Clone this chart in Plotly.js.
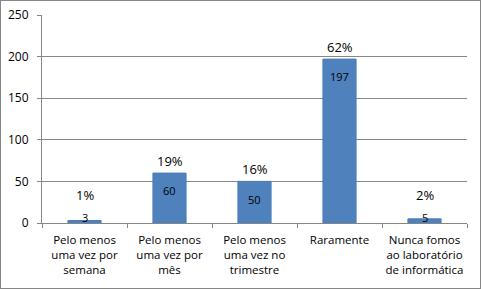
<!DOCTYPE html>
<html><head><meta charset="utf-8">
<script src="https://cdn.plot.ly/plotly-3.0.1.min.js"></script>
<style>
html,body{margin:0;padding:0;background:#fff;}
#wrap{width:481px;height:289px;box-sizing:border-box;border:1px solid #868686;}
#chart{width:479px;height:287px;}
</style></head>
<body><div id="wrap"><div id="chart"></div></div>
<script>
const categories = [
  "Pelo menos<br>uma vez por<br>semana",
  "Pelo menos<br>uma vez por<br>mês",
  "Pelo menos<br>uma vez no<br>trimestre",
  "Raramente",
  "Nunca fomos<br>ao laboratório<br>de informática"
];
const values = [3, 60, 50, 197, 5];
const percentLabels = ["1%", "19%", "16%", "62%", "2%"];

const font = "Open Sans, sans-serif";
const annotations = [];
categories.forEach((c, i) => {
  annotations.push({
    x: c, y: Math.max(values[i] - 10, 18), xref: 'x', yref: 'y',
    text: String(values[i]), showarrow: false, yanchor: 'top',
    font: {family: font, size: 11, color: '#000'}
  });
  annotations.push({
    x: c, y: Math.max(values[i], 19), xref: 'x', yref: 'y',
    text: percentLabels[i], showarrow: false, yanchor: 'bottom', yshift: 1,
    font: {family: font, size: 13, color: '#000'}
  });
});

Plotly.newPlot('chart', [{
  type: 'bar', x: categories, y: values,
  marker: {color: '#4F81BD', line: {color: '#4A7EBB', width: 1}},
  hoverinfo: 'none'
}], {
  width: 479, height: 287,
  margin: {l: 41, r: 13, t: 14, b: 65},
  paper_bgcolor: '#fff', plot_bgcolor: '#fff',
  bargap: 0.61,
  showlegend: false,
  font: {family: font, size: 12, color: '#000'},
  xaxis: {
    type: 'category', tickson: 'boundaries', ticks: 'outside', ticklen: 4,
    tickcolor: '#868686', showline: true, linecolor: '#868686', linewidth: 1,
    showgrid: false, ticklabelstandoff: 6, tickangle: 0,
    tickfont: {family: font, size: 11.5, color: '#000'}
  },
  yaxis: {
    range: [0, 250], dtick: 50, ticks: 'outside', ticklen: 4, tickcolor: '#868686',
    showline: true, linecolor: '#868686', linewidth: 1,
    showgrid: true, gridcolor: '#868686', gridwidth: 1, zeroline: false,
    ticklabelstandoff: 6,
    tickfont: {family: font, size: 12, color: '#000'}
  },
  annotations: annotations
}, {displayModeBar: false, staticPlot: true});
</script></body></html>
